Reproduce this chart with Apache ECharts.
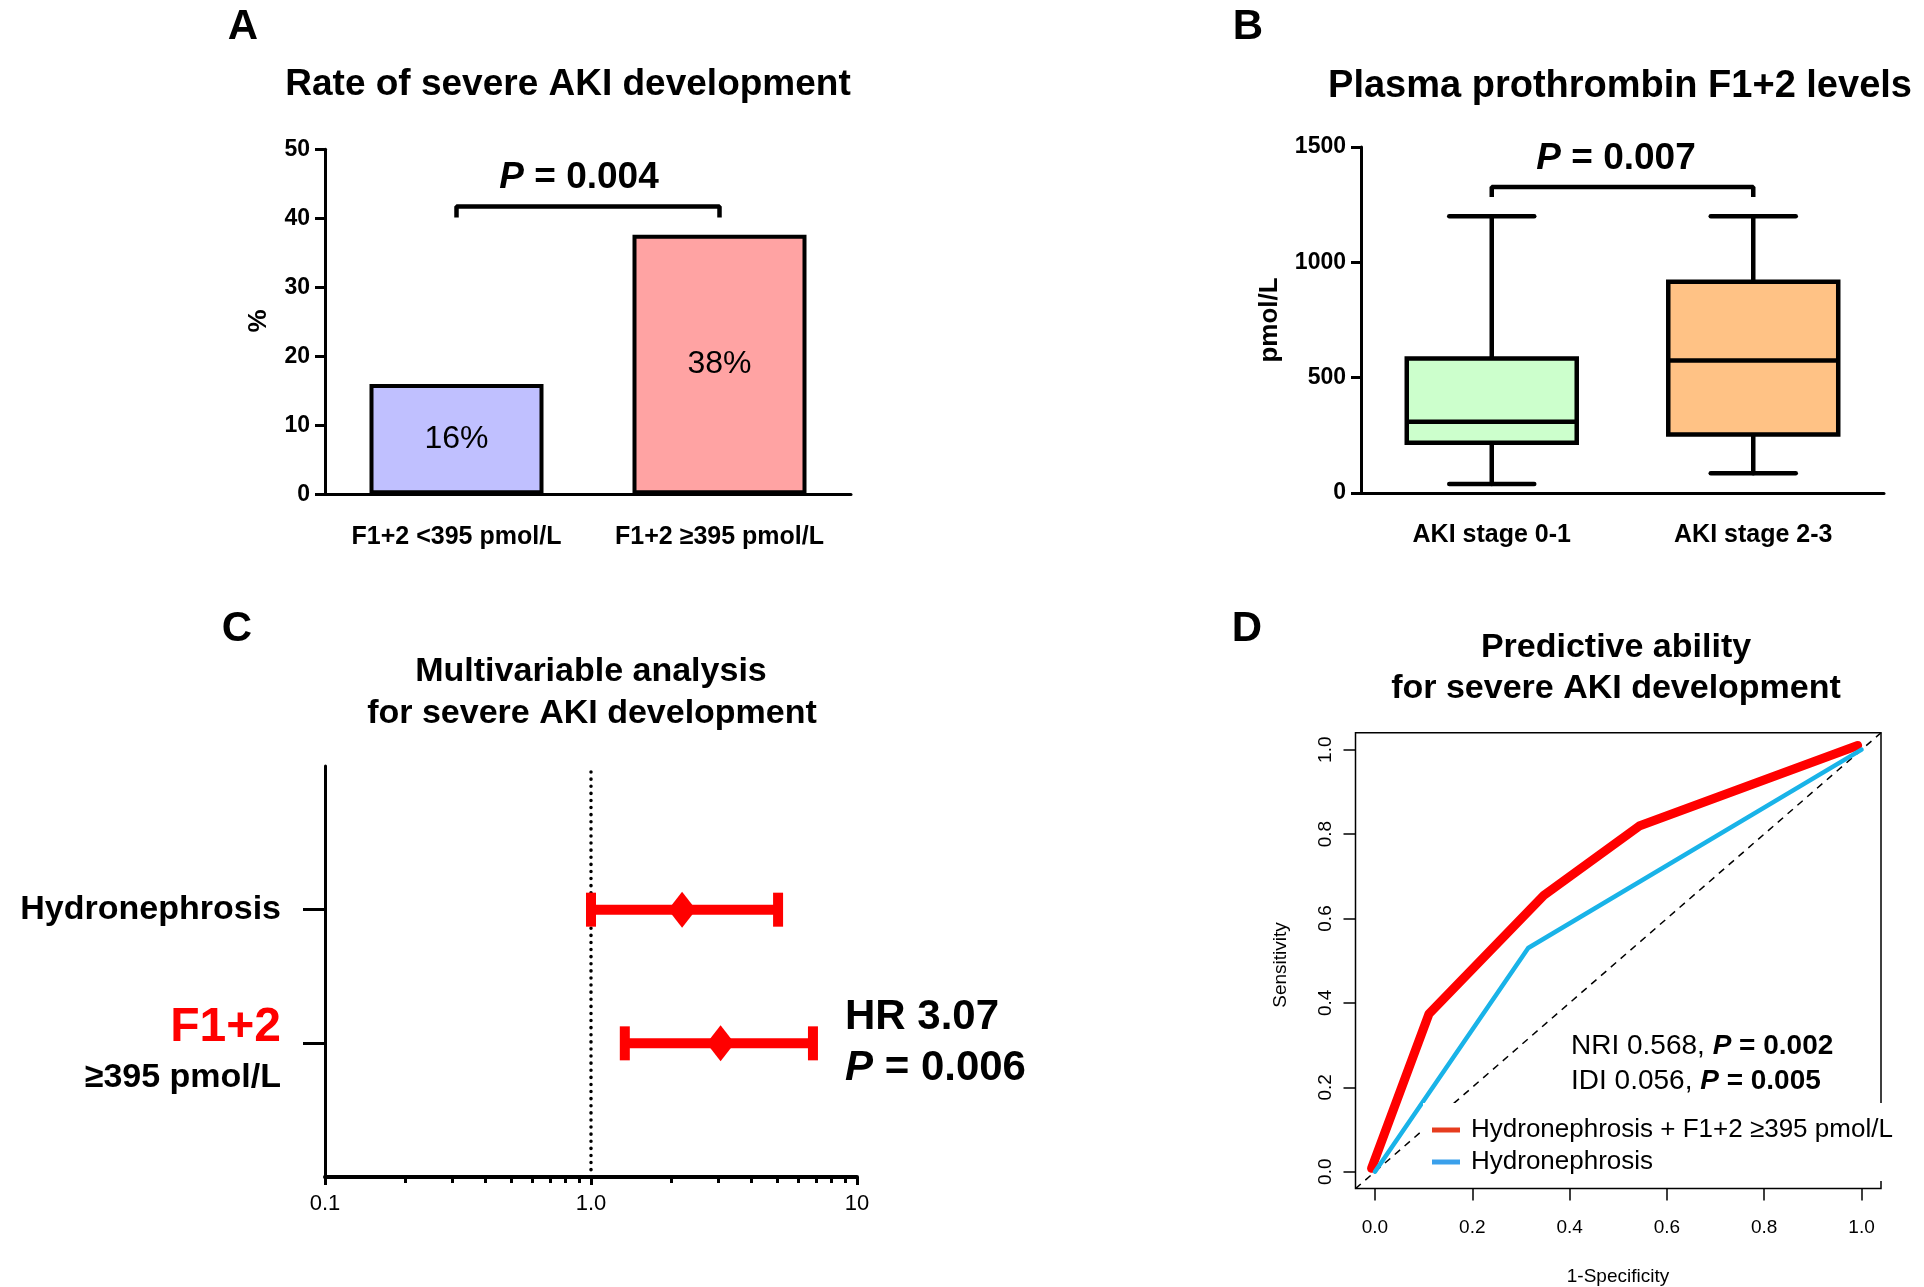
<!DOCTYPE html>
<html>
<head>
<meta charset="utf-8">
<script src="https://cdn.jsdelivr.net/npm/echarts@6/dist/echarts.min.js"></script>
<style>
html,body{margin:0;padding:0;background:#fff;}
#c{width:1924px;height:1287px;}
</style>
</head>
<body>
<div id="c"></div>
<script>
// ---------- Panel A: rate of severe AKI ----------
const aCategories = ['F1+2 <395 pmol/L', 'F1+2 \u2265395 pmol/L'];
const aRates = [16, 37.6];
const aColors = ['#c0c0ff', '#ffa3a3'];
const aBracket = [[0, 40.1], [0, 41.7], [1, 41.7], [1, 40.1]];

// ---------- Panel B: plasma prothrombin F1+2 ----------
const bCategories = ['AKI stage 0-1', 'AKI stage 2-3'];
const bMin = [39, 86];
const bQ1 = [218, 254];
const bMedian = [309, 574];
const bQ3 = [583, 916];
const bMax = [1200, 1200];
const bColors = ['#ccffcc', '#ffc285'];
const bBracket = [[0, 1283], [0, 1327], [1, 1327], [1, 1283]];

// ---------- Panel C: multivariable analysis (forest) ----------
const cRows = ['Hydronephrosis', 'F1+2 \u2265395 pmol/L'];
const cHR = [2.20, 3.07];
const cLower = [1.0, 1.34];
const cUpper = [5.05, 6.83];
const cTicks = [0.1, 1, 10];
const cTickLabels = ['0.1', '1.0', '10'];
const cRefLine = [[1, -0.03], [1, 3]];

// ---------- Panel D: ROC curves ----------
const dRedName = 'Hydronephrosis + F1+2 \u2265395 pmol/L';
const dBlueName = 'Hydronephrosis';
const dRedX = [-0.007, 0.111, 0.347, 0.543, 0.992];
const dRedY = [0.008, 0.374, 0.655, 0.819, 1.010];
const dBlueX = [0, 0.315, 1];
const dBlueY = [0, 0.530, 1];
const dDiag = [-0.04, 1.04];
const dTicks = [0, 0.2, 0.4, 0.6, 0.8, 1.0];

const F = '"Liberation Sans", Arial, Helvetica, sans-serif';

function txt(x, y, text, size, opts) {
  opts = opts || {};
  return {
    type: 'text', x: x, y: y, rotation: opts.rotation || 0, silent: true, z: 100,
    style: {
      text: text, fill: opts.color || '#000', fontSize: size,
      fontWeight: opts.weight || 'bold', fontFamily: F,
      align: opts.align || 'center', verticalAlign: 'middle',
      rich: opts.rich
    }
  };
}

function boxRender(params, api) {
  const i = api.value(0);
  const band = api.size([1, 0])[0];
  const bw = band * 0.65, cw = band * 0.325;
  const pMin = api.coord([i, api.value(1)]);
  const pQ1 = api.coord([i, api.value(2)]);
  const pMed = api.coord([i, api.value(3)]);
  const pQ3 = api.coord([i, api.value(4)]);
  const pMax = api.coord([i, api.value(5)]);
  const x = pMin[0];
  const st = { stroke: '#000', lineWidth: 4.5, lineCap: 'round' };
  return {
    type: 'group', children: [
      { type: 'line', shape: { x1: x, y1: pQ3[1], x2: x, y2: pMax[1] }, style: st },
      { type: 'line', shape: { x1: x, y1: pMin[1], x2: x, y2: pQ1[1] }, style: st },
      { type: 'line', shape: { x1: x - cw / 2, y1: pMax[1], x2: x + cw / 2, y2: pMax[1] }, style: st },
      { type: 'line', shape: { x1: x - cw / 2, y1: pMin[1], x2: x + cw / 2, y2: pMin[1] }, style: st },
      { type: 'rect', shape: { x: x - bw / 2, y: pQ3[1], width: bw, height: pQ1[1] - pQ3[1] },
        style: { fill: bColors[params.dataIndex], stroke: '#000', lineWidth: 4.5 } },
      { type: 'line', shape: { x1: x - bw / 2, y1: pMed[1], x2: x + bw / 2, y2: pMed[1] },
        style: { stroke: '#000', lineWidth: 4.5 } }
    ]
  };
}

function forestRender(params, api) {
  const row = api.value(3);
  const lo = api.coord([api.value(0), row]);
  const hr = api.coord([api.value(1), row]);
  const up = api.coord([api.value(2), row]);
  const y = lo[1];
  const red = '#ff0000';
  return {
    type: 'group', children: [
      { type: 'line', shape: { x1: lo[0], y1: y, x2: up[0], y2: y }, style: { stroke: red, lineWidth: 10 } },
      { type: 'rect', shape: { x: lo[0] - 5, y: y - 17, width: 10, height: 34 }, style: { fill: red } },
      { type: 'rect', shape: { x: up[0] - 5, y: y - 17, width: 10, height: 34 }, style: { fill: red } },
      { type: 'polygon', shape: { points: [[hr[0], y - 18], [hr[0] + 14, y], [hr[0], y + 18], [hr[0] - 14, y]] },
        style: { fill: red } }
    ]
  };
}

const blackLine = { color: '#000', width: 3 };
const boldLabel = { fontFamily: F, fontWeight: 'bold', color: '#000' };
const plain = function (v) { return String(v); };

const option = {
  animation: false,
  backgroundColor: '#fff',
  grid: [
    { left: 325, top: 149.3, width: 526, height: 345 },
    { left: 1361, top: 147, width: 523, height: 346 },
    { left: 325, top: 766, width: 532, height: 411 },
    { left: 1355.5, top: 732.8, width: 525.5, height: 455.8, show: true,
      borderColor: '#000', borderWidth: 1.5, backgroundColor: 'transparent' }
  ],
  xAxis: [
    { gridIndex: 0, type: 'category', data: aCategories,
      axisLine: { onZero: false, lineStyle: blackLine },
      axisTick: { alignWithLabel: true, length: 10, lineStyle: blackLine },
      axisLabel: Object.assign({ fontSize: 25, margin: 30, interval: 0, hideOverlap: false }, boldLabel) },
    { gridIndex: 1, type: 'category', data: bCategories,
      axisLine: { onZero: false, lineStyle: blackLine },
      axisTick: { alignWithLabel: true, length: 10, lineStyle: blackLine },
      axisLabel: Object.assign({ fontSize: 25, margin: 30, interval: 0, hideOverlap: false }, boldLabel) },
    { gridIndex: 2, type: 'log', logBase: 10, min: cTicks[0], max: cTicks[cTicks.length - 1],
      axisLine: { onZero: false, lineStyle: { color: '#000', width: 4 } },
      axisTick: { length: 8, lineStyle: blackLine },
      minorTick: { show: true, splitNumber: 9, length: 6, lineStyle: blackLine },
      splitLine: { show: false }, minorSplitLine: { show: false },
      axisLabel: { fontFamily: F, fontSize: 22, color: '#000', margin: 16,
        formatter: function (v) {
          for (let k = 0; k < cTicks.length; k++) { if (Math.abs(cTicks[k] - v) < 1e-9) return cTickLabels[k]; }
          return '';
        } } },
    { gridIndex: 3, type: 'value', min: dDiag[0], max: dDiag[1],
      axisLine: { show: false, onZero: false },
      axisTick: { show: true, customValues: dTicks, length: 12, lineStyle: { color: '#000', width: 1.5 } },
      axisLabel: { customValues: dTicks, formatter: function (v) { return v.toFixed(1); },
        fontFamily: F, fontSize: 19, color: '#000', margin: 30 },
      splitLine: { show: false } }
  ],
  yAxis: [
    { gridIndex: 0, type: 'value', min: 0, max: 50, interval: 10,
      axisLine: { show: true, onZero: false, lineStyle: blackLine },
      axisTick: { show: true, length: 10, lineStyle: blackLine },
      axisLabel: Object.assign({ fontSize: 23, margin: 15, formatter: plain }, boldLabel),
      splitLine: { show: false } },
    { gridIndex: 1, type: 'value', min: 0, max: 1500, interval: 500,
      axisLine: { show: true, onZero: false, lineStyle: blackLine },
      axisTick: { show: true, length: 10, lineStyle: blackLine },
      axisLabel: Object.assign({ fontSize: 23, margin: 15, formatter: plain }, boldLabel),
      splitLine: { show: false } },
    { gridIndex: 2, type: 'value', inverse: true, min: -0.075, max: 3,
      axisLine: { show: true, onZero: false, lineStyle: blackLine },
      axisTick: { show: true, customValues: cRows.map(function (r, i) { return i + 1; }), length: 22, lineStyle: blackLine },
      axisLabel: { show: false }, splitLine: { show: false } },
    { gridIndex: 3, type: 'value', min: dDiag[0], max: dDiag[1],
      axisLine: { show: false, onZero: false },
      axisTick: { show: true, customValues: dTicks, length: 12, lineStyle: { color: '#000', width: 1.5 } },
      axisLabel: { customValues: dTicks, rotate: 90, formatter: function (v) { return v.toFixed(1); },
        fontFamily: F, fontSize: 19, color: '#000', margin: 20 },
      splitLine: { show: false } }
  ],
  legend: {
    left: 1423, top: 1103, orient: 'vertical', backgroundColor: '#fff',
    padding: [14, 8, 6, 9], itemGap: 6, itemWidth: 28, itemHeight: 5, icon: 'rect',
    selectedMode: false, z: 10,
    textStyle: { fontSize: 26, fontFamily: F, color: '#000', padding: [0, 0, 0, 6] },
    data: [
      { name: dRedName, itemStyle: { color: '#e63c1e' } },
      { name: dBlueName, itemStyle: { color: '#3aa0eb' } }
    ]
  },
  series: [
    { type: 'bar', xAxisIndex: 0, yAxisIndex: 0, barWidth: 174,
      data: aRates.map(function (v, i) { return { value: v, itemStyle: { color: aColors[i] } }; }),
      itemStyle: { borderColor: '#000', borderWidth: 4 },
      label: { show: true, position: 'inside', fontFamily: F, fontSize: 32, color: '#000',
        formatter: function (p) { return Math.round(p.value) + '%'; } } },
    { type: 'line', xAxisIndex: 0, yAxisIndex: 0, data: aBracket, symbol: 'none', silent: true,
      lineStyle: { color: '#000', width: 4.5 } },
    { type: 'custom', xAxisIndex: 1, yAxisIndex: 1,
      data: bCategories.map(function (c, i) { return [i, bMin[i], bQ1[i], bMedian[i], bQ3[i], bMax[i]]; }),
      encode: { x: 0, y: [1, 2, 3, 4, 5] }, renderItem: boxRender },
    { type: 'line', xAxisIndex: 1, yAxisIndex: 1, data: bBracket, symbol: 'none', silent: true,
      lineStyle: { color: '#000', width: 4.5 } },
    { type: 'line', xAxisIndex: 2, yAxisIndex: 2, data: cRefLine, symbol: 'none', silent: true, z: 1,
      lineStyle: { color: '#000', width: 3.5, type: [0.1, 7], cap: 'round' } },
    { type: 'custom', xAxisIndex: 2, yAxisIndex: 2, z: 3,
      data: cRows.map(function (r, i) { return [cLower[i], cHR[i], cUpper[i], i + 1]; }),
      encode: { x: [0, 1, 2], y: 3 }, renderItem: forestRender },
    { type: 'line', xAxisIndex: 3, yAxisIndex: 3, name: 'diag', silent: true, z: 1,
      data: [[dDiag[0], dDiag[0]], [dDiag[1], dDiag[1]]], symbol: 'none',
      lineStyle: { color: '#000', width: 1.5, type: [7, 6] } },
    { type: 'line', xAxisIndex: 3, yAxisIndex: 3, name: dRedName, symbol: 'none', z: 2,
      data: dRedX.map(function (x, i) { return [x, dRedY[i]]; }),
      lineStyle: { color: '#ff0000', width: 9, cap: 'round', join: 'round' } },
    { type: 'line', xAxisIndex: 3, yAxisIndex: 3, name: dBlueName, symbol: 'none', z: 3,
      data: dBlueX.map(function (x, i) { return [x, dBlueY[i]]; }),
      lineStyle: { color: '#19b3e8', width: 4.5, cap: 'round', join: 'round' } }
  ],
  graphic: [
    txt(243, 27, 'A', 42),
    txt(1248, 27, 'B', 42),
    txt(237, 629, 'C', 42),
    txt(1247, 629, 'D', 42),
    txt(568, 85, 'Rate of severe AKI development', 37),
    txt(1620, 87, 'Plasma prothrombin F1+2 levels', 38),
    txt(579, 178, '{i|P} = 0.004', 37, { rich: { i: { fontStyle: 'italic', fontWeight: 'bold', fontSize: 37, fontFamily: F } } }),
    txt(1616, 159, '{i|P} = 0.007', 37, { rich: { i: { fontStyle: 'italic', fontWeight: 'bold', fontSize: 37, fontFamily: F } } }),
    txt(259, 321, '%', 26, { rotation: Math.PI / 2 }),
    txt(1270, 320, 'pmol/L', 26, { rotation: Math.PI / 2 }),
    txt(591, 672, 'Multivariable analysis', 34),
    txt(592, 714, 'for severe AKI development', 34),
    txt(281, 910, cRows[0], 34, { align: 'right' }),
    txt(281, 1028, 'F1+2', 48, { align: 'right', color: '#ff0000' }),
    txt(281, 1078, '\u2265395 pmol/L', 34, { align: 'right' }),
    txt(845, 1017, 'HR ' + cHR[1].toFixed(2), 42, { align: 'left' }),
    txt(845, 1068, '{i|P} = 0.006', 42, { align: 'left', rich: { i: { fontStyle: 'italic', fontWeight: 'bold', fontSize: 42, fontFamily: F } } }),
    txt(1616, 648, 'Predictive ability', 34),
    txt(1616, 689, 'for severe AKI development', 34),
    txt(1281, 965, 'Sensitivity', 19, { weight: 'normal', rotation: Math.PI / 2 }),
    txt(1618, 1277, '1-Specificity', 19, { weight: 'normal' }),
    txt(1571, 1046, '{n|NRI 0.568, }{bi|P}{b| = 0.002}', 28, { align: 'left', weight: 'normal', rich: {
      n: { fontSize: 28, fontFamily: F, fontWeight: 'normal' },
      bi: { fontSize: 28, fontFamily: F, fontWeight: 'bold', fontStyle: 'italic' },
      b: { fontSize: 28, fontFamily: F, fontWeight: 'bold' } } }),
    txt(1571, 1081, '{n|IDI 0.056, }{bi|P}{b| = 0.005}', 28, { align: 'left', weight: 'normal', rich: {
      n: { fontSize: 28, fontFamily: F, fontWeight: 'normal' },
      bi: { fontSize: 28, fontFamily: F, fontWeight: 'bold', fontStyle: 'italic' },
      b: { fontSize: 28, fontFamily: F, fontWeight: 'bold' } } })
  ]
};

const chart = echarts.init(document.getElementById('c'), null, { renderer: 'canvas' });
chart.setOption(option);
</script>
</body>
</html>
